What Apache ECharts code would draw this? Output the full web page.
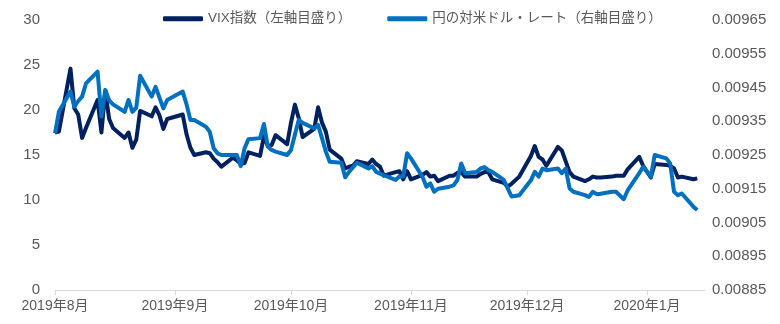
<!DOCTYPE html>
<html>
<head>
<meta charset="utf-8">
<script src="https://cdn.jsdelivr.net/npm/echarts@6/dist/echarts.min.js"></script>
<style>
  html, body { margin: 0; padding: 0; background: #ffffff; }
  #chart { width: 780px; height: 324px; }
</style>
</head>
<body>
<div id="chart"></div>
<script>
// US trading days, 2019-08-01 .. 2020-01-14
const tradeDates = [
  '2019-08-01','2019-08-02','2019-08-05','2019-08-06','2019-08-07','2019-08-08','2019-08-09',
  '2019-08-12','2019-08-13','2019-08-14','2019-08-15','2019-08-16','2019-08-19','2019-08-20',
  '2019-08-21','2019-08-22','2019-08-23','2019-08-26','2019-08-27','2019-08-28','2019-08-29','2019-08-30',
  '2019-09-03','2019-09-04','2019-09-05','2019-09-06','2019-09-09','2019-09-10','2019-09-11',
  '2019-09-12','2019-09-13','2019-09-16','2019-09-17','2019-09-18','2019-09-19','2019-09-20',
  '2019-09-23','2019-09-24','2019-09-25','2019-09-26','2019-09-27','2019-09-30',
  '2019-10-01','2019-10-02','2019-10-03','2019-10-04','2019-10-07','2019-10-08','2019-10-09',
  '2019-10-10','2019-10-11','2019-10-14','2019-10-15','2019-10-16','2019-10-17','2019-10-18',
  '2019-10-21','2019-10-22','2019-10-23','2019-10-24','2019-10-25','2019-10-28','2019-10-29',
  '2019-10-30','2019-10-31',
  '2019-11-01','2019-11-04','2019-11-05','2019-11-06','2019-11-07','2019-11-08','2019-11-11',
  '2019-11-12','2019-11-13','2019-11-14','2019-11-15','2019-11-18','2019-11-19','2019-11-20',
  '2019-11-21','2019-11-22','2019-11-25','2019-11-26','2019-11-27','2019-11-29',
  '2019-12-02','2019-12-03','2019-12-04','2019-12-05','2019-12-06','2019-12-09','2019-12-10',
  '2019-12-11','2019-12-12','2019-12-13','2019-12-16','2019-12-17','2019-12-18','2019-12-19',
  '2019-12-20','2019-12-23','2019-12-24','2019-12-26','2019-12-27','2019-12-30','2019-12-31',
  '2020-01-02','2020-01-03','2020-01-06','2020-01-07','2020-01-08','2020-01-09','2020-01-10',
  '2020-01-13','2020-01-14'
];

// VIX index close (left axis)
const vixClose = [
  17.5, 17.6, 24.6, 20.2, 19.5, 16.9, 18.0,
  21.1, 17.5, 22.1, 19.0, 18.0, 16.9, 17.5,
  15.8, 16.7, 19.9, 19.3, 20.3, 19.4, 17.9, 19.0,
  19.5, 17.3, 15.8, 15.0, 15.3, 15.2, 14.6,
  14.2, 13.7, 14.7, 14.4, 14.0, 14.1, 15.3,
  14.9, 17.1, 16.0, 16.1, 17.2, 16.2,
  18.6, 20.6, 19.1, 17.0, 17.9, 20.3, 18.6,
  17.6, 15.6, 14.6, 13.5, 13.7, 13.8, 14.3,
  14.0, 14.5, 14.0, 13.7, 12.7, 13.1, 13.2,
  12.3, 13.2,
  12.3, 12.8, 13.1, 12.6, 12.7, 12.1, 12.7,
  12.7, 13.0, 13.1, 12.6, 12.6, 12.9, 13.1,
  13.1, 12.3, 11.9, 11.5, 11.8, 12.6,
  14.9, 16.0, 14.8, 14.5, 13.8, 15.9, 15.5,
  14.3, 13.1, 12.6, 12.1, 12.3, 12.6, 12.5,
  12.5, 12.6, 12.7, 12.7, 13.4, 14.8, 13.8,
  12.5, 14.0, 13.9, 13.8, 13.5, 12.5, 12.6,
  12.3, 12.4
];

// Yen value in US dollars per 1 yen (right axis)
const yenInUsd = [
  0.009314, 0.009378, 0.009438, 0.009393, 0.009410, 0.009423, 0.009462,
  0.009497, 0.009364, 0.009443, 0.009412, 0.009400, 0.009378, 0.009413,
  0.009378, 0.009390, 0.009485, 0.009423, 0.009452, 0.009420, 0.009388, 0.009413,
  0.009438, 0.009400, 0.009354, 0.009354, 0.009334, 0.009319, 0.009270,
  0.009255, 0.009250, 0.009250, 0.009250, 0.009217, 0.009270, 0.009297,
  0.009300, 0.009342, 0.009275, 0.009265, 0.009260, 0.009250,
  0.009265, 0.009310, 0.009354, 0.009345, 0.009329, 0.009339, 0.009300,
  0.009260, 0.009230, 0.009227, 0.009184, 0.009200, 0.009213, 0.009227,
  0.009210, 0.009217, 0.009200, 0.009195, 0.009190, 0.009176, 0.009186,
  0.009186, 0.009255,
  0.009240, 0.009185, 0.009156, 0.009166, 0.009141, 0.009150, 0.009156,
  0.009160, 0.009176, 0.009225, 0.009196, 0.009200, 0.009210, 0.009214,
  0.009205, 0.009200, 0.009176, 0.009151, 0.009127, 0.009131,
  0.009175, 0.009200, 0.009186, 0.009210, 0.009205, 0.009210, 0.009196,
  0.009210, 0.009151, 0.009141, 0.009131, 0.009126, 0.009141, 0.009134,
  0.009135, 0.009141, 0.009141, 0.009119, 0.009145, 0.009196, 0.009215,
  0.009186, 0.009250, 0.009240, 0.009225, 0.009141, 0.009131, 0.009136,
  0.009097, 0.009087
];

const seriesNames = ['VIX指数（左軸目盛り）', '円の対米ドル・レート（右軸目盛り）'];
const vixTicks = { min: 0, max: 30, step: 5 };
const yenTicks = { min: 0.00885, max: 0.00965, step: 0.0001 };
const axisStart = '2019-08-01';
const axisEnd = '2020-01-16';

const DAY = 24 * 3600 * 1000;
const FONT = '"Liberation Sans", Arial, "Noto Sans CJK JP", sans-serif';
const TEXT = '#595959';
const AXIS_GRAY = '#d9d9d9';

const chart = echarts.init(document.getElementById('chart'), null, { renderer: 'canvas' });

chart.setOption({
  animation: false,
  textStyle: { fontFamily: FONT },
  legend: {
    top: 7,
    left: 158,
    itemWidth: 40,
    itemHeight: 5,
    itemGap: 36,
    icon: 'roundRect',
    textStyle: { fontSize: 13.5, color: TEXT, fontFamily: FONT },
    data: seriesNames
  },
  grid: { left: 55, right: 75, top: 20, bottom: 34 },
  xAxis: {
    type: 'time',
    min: axisStart,
    max: axisEnd,
    minInterval: 28 * DAY,
    maxInterval: 31 * DAY,
    axisLine: { show: true, lineStyle: { color: AXIS_GRAY, width: 1 } },
    axisTick: { show: true, length: 5, lineStyle: { color: AXIS_GRAY } },
    splitLine: { show: false },
    axisLabel: {
      color: TEXT,
      fontSize: 14,
      margin: 9,
      fontFamily: FONT,
      formatter: function (v) {
        const d = new Date(v);
        return d.getFullYear() + '年' + (d.getMonth() + 1) + '月';
      }
    }
  },
  yAxis: [
    {
      type: 'value',
      position: 'left',
      min: vixTicks.min,
      max: vixTicks.max,
      interval: vixTicks.step,
      axisLine: { show: false },
      axisTick: { show: false },
      splitLine: { show: false },
      axisLabel: { color: TEXT, fontSize: 15, margin: 15, fontFamily: FONT }
    },
    {
      type: 'value',
      position: 'right',
      min: yenTicks.min,
      max: yenTicks.max,
      interval: yenTicks.step,
      axisLine: { show: false },
      axisTick: { show: false },
      splitLine: { show: false },
      axisLabel: {
        color: TEXT, fontSize: 15, margin: 7, fontFamily: FONT,
        formatter: function (v) { return v.toFixed(5); }
      }
    }
  ],
  series: [
    {
      name: seriesNames[0],
      type: 'line',
      yAxisIndex: 0,
      showSymbol: false,
      symbol: 'none',
      color: '#002060',
      lineStyle: { width: 4, color: '#002060', join: 'round' },
      data: tradeDates.map((d, i) => [d, vixClose[i]])
    },
    {
      name: seriesNames[1],
      type: 'line',
      yAxisIndex: 1,
      showSymbol: false,
      symbol: 'none',
      color: '#0070C0',
      lineStyle: { width: 4, color: '#0070C0', join: 'round' },
      data: tradeDates.map((d, i) => [d, yenInUsd[i]])
    }
  ]
});
</script>
</body>
</html>
